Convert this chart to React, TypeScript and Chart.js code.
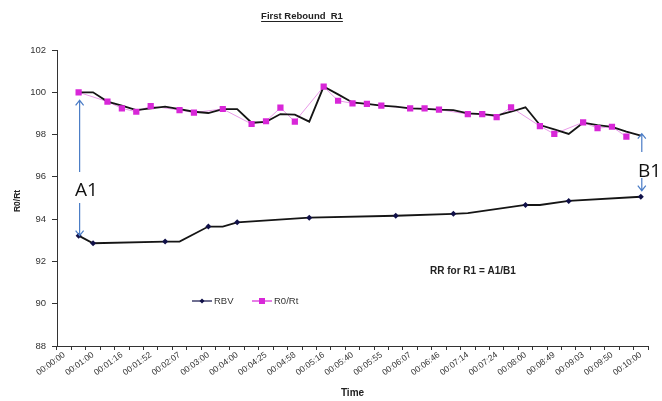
import React, { useEffect, useRef } from 'react';
import { Chart, registerables } from 'chart.js';

Chart.register(...registerables);

// ---- data ----
const timeLabels = [
  '00:00:00', '00:01:00', '00:01:16', '00:01:52', '00:02:07', '00:03:00', '00:04:00',
  '00:04:25', '00:04:58', '00:05:16', '00:05:40', '00:05:55', '00:06:07', '00:06:46',
  '00:07:14', '00:07:24', '00:08:00', '00:08:49', '00:09:03', '00:09:50', '00:10:00',
];
// a labelled category every second slot
const categories: string[] = timeLabels.flatMap((t, i) => (i < timeLabels.length - 1 ? [t, ''] : [t]));

const yTicks = [88, 90, 92, 94, 96, 98, 100, 102];

const r0rt = [
  null, 100.0, null, 99.56, 99.24, 99.08, 99.35, null, 99.16, 99.04,
  null, 99.21, null, 98.5, 98.63, 99.27, 98.61, null, 100.27, 99.6,
  99.48, 99.45, 99.37, null, 99.24, 99.24, 99.18, null, 98.97, 98.97,
  98.82, 99.29, null, 98.4, 98.03, null, 98.58, 98.3, 98.37, 97.9,
  null,
];

const r0rtTrend = [
  null, 100.0, 100.0, 99.56, 99.37, 99.16, 99.24, 99.32, 99.2, 99.08,
  99.02, 99.2, 99.2, 98.56, 98.6, 98.97, 98.94, 98.61, 100.27, 99.9,
  99.52, 99.45, 99.37, 99.32, 99.24, 99.22, 99.18, 99.16, 99.0, 98.97,
  98.9, 99.08, 99.29, 98.45, 98.25, 98.03, 98.56, 98.45, 98.36, 98.14,
  97.95,
];

const rbvTrace = [
  null, 93.22, 92.86, null, null, null, null, 92.94, 92.94, null,
  93.65, 93.65, 93.85, null, null, null, null, 94.07, null, null,
  null, null, null, 94.16, null, null, null, 94.25, 94.28, null,
  null, null, 94.67, 94.67, null, 94.86, null, null, null, null,
  95.06,
];

const rbv = [
  null, 93.22, 92.86, null, null, null, null, 92.94, null, null,
  93.65, null, 93.85, null, null, null, null, 94.07, null, null,
  null, null, null, 94.16, null, null, null, 94.25, null, null,
  null, null, 94.67, null, null, 94.86, null, null, null, null,
  95.06,
];

const titleText = 'First Rebound  R1';
const xTitle = 'Time';
const yTitle = 'R0/Rt';
const noteText = 'RR for R1 = A1/B1';
const legendItems = ['RBV', 'R0/Rt'];
const annotA = 'A1';
const annotB = 'B1';
const firstIdx = 1;
const lastIdx = 40;

// ---- styles ----
const PINK = '#D827D8';
const PINK_LINE = '#E99AE9';
const NAVY = '#101048';
const BLUE = '#4A7CC6';
const AXIS = '#333333';
const FONT = '"Liberation Sans", Arial, sans-serif';
const BIGFONT = '"Open Sans", "Noto Sans", sans-serif';

function arrow(ctx: CanvasRenderingContext2D, x: number, yFrom: number, yTip: number) {
  const dir = yTip < yFrom ? -1 : 1;
  ctx.beginPath();
  ctx.moveTo(x, yFrom);
  ctx.lineTo(x, yTip);
  ctx.moveTo(x - 4, yTip - dir * 5);
  ctx.lineTo(x, yTip);
  ctx.lineTo(x + 4, yTip - dir * 5);
  ctx.stroke();
}

const overlay = {
  id: 'overlay',
  afterDraw(chart: any) {
    const ctx: CanvasRenderingContext2D = chart.ctx;
    const xs = chart.scales.x;
    const ys = chart.scales.y;
    ctx.save();

    // title
    ctx.fillStyle = '#222';
    ctx.font = `bold 9.5px ${FONT}`;
    ctx.textAlign = 'center';
    ctx.textBaseline = 'middle';
    const tw = ctx.measureText(titleText).width;
    ctx.fillText(titleText, 302, 16);
    ctx.fillRect(302 - tw / 2, 21, tw, 1);

    // axis titles
    ctx.font = `bold 10px ${FONT}`;
    ctx.fillText(xTitle, (chart.chartArea.left + chart.chartArea.right) / 2, 393);
    ctx.save();
    ctx.translate(18, (chart.chartArea.top + chart.chartArea.bottom) / 2 + 3);
    ctx.rotate(-Math.PI / 2);
    ctx.font = `bold 8.5px ${FONT}`;
    ctx.fillText(yTitle, 0, 0);
    ctx.restore();

    // note
    ctx.font = `bold 10px ${FONT}`;
    ctx.textAlign = 'left';
    ctx.fillText(noteText, 430, 271);

    // legend
    const ly = 301;
    ctx.lineWidth = 1.2;
    ctx.strokeStyle = NAVY;
    ctx.beginPath();
    ctx.moveTo(192, ly);
    ctx.lineTo(212, ly);
    ctx.stroke();
    ctx.fillStyle = NAVY;
    ctx.beginPath();
    ctx.moveTo(202, ly - 2.5);
    ctx.lineTo(204.5, ly);
    ctx.lineTo(202, ly + 2.5);
    ctx.lineTo(199.5, ly);
    ctx.closePath();
    ctx.fill();
    ctx.strokeStyle = PINK;
    ctx.beginPath();
    ctx.moveTo(252, ly);
    ctx.lineTo(272, ly);
    ctx.stroke();
    ctx.fillStyle = PINK;
    ctx.fillRect(259, ly - 3, 6, 6);
    ctx.fillStyle = '#333';
    ctx.font = `9.5px ${FONT}`;
    ctx.fillText(legendItems[0], 214, ly);
    ctx.fillText(legendItems[1], 274, ly);

    // annotations
    ctx.strokeStyle = BLUE;
    ctx.lineWidth = 1.2;
    const xa = xs.getPixelForValue(firstIdx) + 1;
    arrow(ctx, xa, 172, ys.getPixelForValue(r0rtTrend[firstIdx] as number) + 8);
    arrow(ctx, xa, 203, ys.getPixelForValue(rbvTrace[firstIdx] as number));
    const xb = xs.getPixelForValue(lastIdx) + 1;
    arrow(ctx, xb, 152, ys.getPixelForValue(r0rtTrend[lastIdx] as number) - 2);
    arrow(ctx, xb, 178, ys.getPixelForValue(rbvTrace[lastIdx] as number) - 6);
    ctx.fillStyle = '#111';
    ctx.font = `19px ${BIGFONT}`;
    ctx.textAlign = 'left';
    ctx.textBaseline = 'alphabetic';
    ctx.fillText(annotA, 75, 196);
    ctx.fillText(annotB, 638, 177);

    ctx.restore();
  },
};

export default function App() {
  const ref = useRef<HTMLCanvasElement | null>(null);

  useEffect(() => {
    if (!ref.current) return;
    const chart = new Chart(ref.current, {
      type: 'line',
      data: {
        labels: categories,
        datasets: [
          {
            label: 'R0/Rt line',
            data: r0rt,
            borderColor: PINK_LINE,
            borderWidth: 1,
            pointRadius: 0,
            spanGaps: true,
            order: 3,
          },
          {
            label: 'R0/Rt trend',
            data: r0rtTrend,
            borderColor: '#151515',
            borderWidth: 1.8,
            pointRadius: 0,
            spanGaps: true,
            order: 2,
          },
          {
            label: 'RBV line',
            data: rbvTrace,
            borderColor: '#151515',
            borderWidth: 1.8,
            pointRadius: 0,
            spanGaps: true,
            order: 2,
          },
          {
            label: legendItems[1],
            data: r0rt,
            showLine: false,
            pointStyle: 'rect',
            pointRadius: 4.4,
            pointBackgroundColor: PINK,
            pointBorderColor: PINK,
            pointBorderWidth: 0,
            order: 0,
          },
          {
            label: legendItems[0],
            data: rbv,
            showLine: false,
            pointStyle: 'rectRot',
            pointRadius: 3,
            pointBackgroundColor: NAVY,
            pointBorderColor: NAVY,
            pointBorderWidth: 0,
            order: 0,
          },
        ],
      },
      options: {
        responsive: false,
        animation: false,
        layout: { padding: { top: 50, right: 14, left: 0, bottom: 0 } },
        plugins: { legend: { display: false }, tooltip: { enabled: false }, title: { display: false } },
        scales: {
          x: {
            type: 'category',
            offset: true,
            afterFit: (s: any) => { s.height = 55; },
            grid: { offset: true, drawOnChartArea: false, drawTicks: true, tickLength: 4, color: AXIS, lineWidth: 1 },
            border: { display: true, color: AXIS, width: 1 },
            ticks: {
              autoSkip: false,
              minRotation: 36,
              maxRotation: 36,
              padding: 0,
              color: '#333',
              font: { size: 8.5, family: FONT },
            },
          },
          y: {
            min: yTicks[0],
            max: yTicks[yTicks.length - 1],
            afterFit: (s: any) => { s.width = 57; },
            afterBuildTicks: (s: any) => { s.ticks = yTicks.map((v) => ({ value: v })); },
            grid: { drawOnChartArea: false, drawTicks: true, tickLength: 5, color: AXIS, lineWidth: 1 },
            border: { display: true, color: AXIS, width: 1 },
            ticks: { padding: 6, color: '#333', font: { size: 9.5, family: FONT } },
          },
        },
      },
      plugins: [overlay],
    });
    return () => chart.destroy();
  }, []);

  return (
    <div style={{ position: 'fixed', left: 0, top: 0, width: 662, height: 401, background: '#fff' }}>
      <canvas ref={ref} width={662} height={401} style={{ display: 'block' }} />
    </div>
  );
}
